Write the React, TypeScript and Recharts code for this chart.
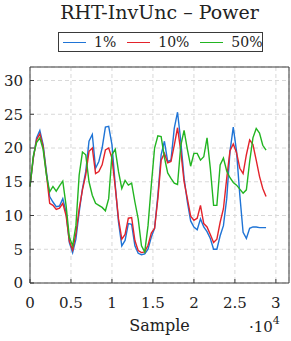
import { LineChart, Line, XAxis, YAxis, CartesianGrid, Legend } from "recharts";

// sample index (every 400 samples)
const samples = Array.from({ length: 73 }, (_, i) => i * 400);

const power1 = [
  14.3, 18.5, 21.5, 22.6, 20.5, 16.5, 12.8, 12.0, 11.3, 11.4, 12.5, 10.5, 6.0, 4.5, 6.5, 10.5,
  14.0, 16.5, 21.0, 22.0, 17.0, 18.0, 20.0, 23.1, 23.2, 20.5, 14.5, 9.0, 5.5, 6.3, 8.8, 8.7,
  5.5, 4.4, 4.2, 4.3, 5.0, 6.8, 8.1, 13.0, 19.0, 21.0, 18.0, 18.2, 22.9, 25.3, 21.0, 15.5,
  12.0, 9.2, 8.3, 7.9, 9.5, 8.3, 7.6, 6.6, 5.0, 5.0, 7.0, 8.5, 12.5, 19.5, 23.1, 19.5,
  13.0, 7.5, 6.6, 8.1, 8.3, 8.3, 8.2, 8.2, 8.2,
];

const power10 = [
  14.3, 18.5, 21.2, 22.1, 20.2, 16.2, 11.8, 11.5, 10.9, 11.1, 11.8, 10.0, 6.2, 4.9, 7.3, 11.0,
  13.8, 16.0, 19.5, 20.0, 16.2, 16.5, 17.5, 19.7, 20.0, 18.5, 14.2, 9.5, 6.5, 7.2, 9.6, 9.7,
  6.3, 4.8, 4.5, 4.6, 5.6, 7.4, 8.1, 12.5, 18.2, 19.2, 17.8, 18.0, 20.4, 23.0, 19.5, 15.0,
  12.5, 9.9, 9.3, 9.6, 11.5, 8.8, 8.3, 7.2, 6.0, 6.5, 9.0, 11.0, 15.5, 19.6, 20.6, 19.3,
  17.0, 16.2, 19.0, 21.2, 20.5, 18.2, 15.8, 14.0, 12.8,
];

const power50 = [
  14.3, 18.8, 20.8, 21.5, 19.8, 16.0, 13.5, 14.3, 13.6, 14.4, 15.1, 11.5, 6.8, 5.5, 8.5, 16.0,
  19.4, 19.0, 15.0, 13.0, 11.8, 11.5, 11.2, 10.7, 12.5, 19.0, 19.8, 16.5, 14.0, 15.2, 14.5, 14.8,
  12.0, 9.5, 5.5, 4.6, 8.5, 14.5, 20.0, 21.8, 21.7, 18.6, 16.3, 15.5, 14.8, 14.6, 20.4, 22.6,
  19.8, 17.3, 19.2, 19.2, 18.2, 18.7, 21.5, 17.0, 11.5, 11.5, 17.5, 18.5, 16.6, 15.6, 14.9, 14.5,
  13.9, 13.3, 13.8, 18.0, 21.5, 22.9, 22.2, 20.4, 19.7,
];

const xTicks = [0, 5000, 10000, 15000, 20000, 25000, 30000];
const yTicks = [0, 5, 10, 15, 20, 25, 30];

const seriesNames = ["1%", "10%", "50%"];
const seriesColors = ["#1f74d6", "#e3232b", "#22b521"];

const rows = samples.map((s, i) => ({
  s,
  p1: power1[i],
  p10: power10[i],
  p50: power50[i],
}));

const serif = "'DejaVu Serif', serif";
const ink = "#222";
const frame = "#3a3a3a";

function LegendBox() {
  return (
    <div
      style={{
        boxSizing: "border-box",
        width: 205,
        height: 20,
        border: `1px solid ${frame}`,
        background: "#fff",
        display: "flex",
        alignItems: "center",
        fontFamily: serif,
        fontSize: 14,
        color: ink,
      }}
    >
      {seriesNames.map((n, i) => (
        <span key={n} style={{ display: "flex", alignItems: "center", marginLeft: i === 0 ? 4 : 11 }}>
          <span style={{ width: 23, height: 0, borderTop: `1.5px solid ${seriesColors[i]}`, display: "inline-block" }} />
          <span style={{ marginLeft: 8 }}>{n}</span>
        </span>
      ))}
    </div>
  );
}

export default function App() {
  const tickStyle = { fontSize: 15, fill: ink, fontFamily: serif };
  return (
    <div
      style={{
        position: "absolute",
        left: 0,
        top: 0,
        width: 291,
        height: 341,
        background: "#fff",
        fontFamily: serif,
      }}
    >
      <div
        style={{
          position: "absolute",
          left: 30,
          top: 1,
          width: 259,
          textAlign: "center",
          fontSize: 19,
          color: ink,
        }}
      >
        RHT-InvUnc – Power
      </div>
      <LineChart
        width={291}
        height={341}
        data={rows}
        margin={{ top: 66, right: 1, bottom: 28, left: 0 }}
        style={{ fontFamily: serif }}
      >
        <CartesianGrid stroke="#d8d8d8" strokeDasharray="4 3" />
        <XAxis
          dataKey="s"
          type="number"
          domain={[0, 31600]}
          ticks={xTicks}
          tickFormatter={(v: number) => String(v / 10000)}
          tick={tickStyle}
          tickSize={-4}
          tickMargin={18}
          stroke={frame}
          height={30}
          interval={0}
          label={{ value: "Sample", position: "bottom", offset: 7, style: { fontSize: 16, fill: ink, fontFamily: serif } }}
        />
        <XAxis
          xAxisId="top"
          orientation="top"
          dataKey="s"
          type="number"
          domain={[0, 31600]}
          ticks={xTicks}
          tick={false}
          tickSize={-4}
          stroke={frame}
          height={1}
        />
        <YAxis
          type="number"
          domain={[0, 32]}
          ticks={yTicks}
          tick={tickStyle}
          tickSize={-4}
          tickMargin={11}
          stroke={frame}
          width={30}
          interval={0}
        />
        <YAxis
          yAxisId="right"
          orientation="right"
          type="number"
          domain={[0, 32]}
          ticks={yTicks}
          tick={false}
          tickSize={-4}
          stroke={frame}
          width={1}
        />
        <Legend
          layout="horizontal"
          verticalAlign="middle"
          align="center"
          wrapperStyle={{ position: "absolute", top: 32, left: 58, width: 205, height: 20 }}
          content={() => <LegendBox />}
        />
        <Line dataKey="p1" name="1%" stroke={seriesColors[0]} strokeWidth={1.4} dot={false} isAnimationActive={false} />
        <Line dataKey="p10" name="10%" stroke={seriesColors[1]} strokeWidth={1.4} dot={false} isAnimationActive={false} />
        <Line dataKey="p50" name="50%" stroke={seriesColors[2]} strokeWidth={1.4} dot={false} isAnimationActive={false} />
      </LineChart>
      <div style={{ position: "absolute", left: 249, top: 316, fontSize: 15, color: ink }}>
        ·10<sup style={{ fontSize: 11, position: "relative", top: -2 }}>4</sup>
      </div>
    </div>
  );
}
